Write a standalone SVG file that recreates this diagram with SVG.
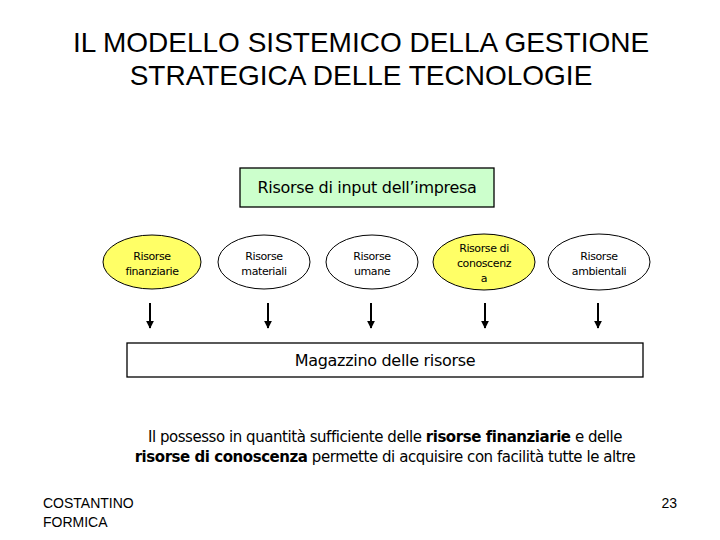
<svg xmlns="http://www.w3.org/2000/svg" width="720" height="540" viewBox="0 0 720 540">
<style>
.title{font-family:"Liberation Sans",Arial,sans-serif;font-size:28px;fill:#000;text-anchor:middle}
.t{font-family:"DejaVu Sans","Liberation Sans",sans-serif;fill:#000;text-anchor:middle}
.small{font-size:11px;letter-spacing:-0.4px}
.box{stroke:#000;stroke-width:1.3}
.ell{stroke:#000;stroke-width:1}
.foot{font-family:"Liberation Sans",Arial,sans-serif;font-size:14px;fill:#000}
.arrow{stroke:#000;stroke-width:2;marker-end:url(#ah)}
</style>
<defs>
<marker id="ah" viewBox="0 0 10 10" refX="9" refY="5" markerWidth="4" markerHeight="4" orient="auto" markerUnits="strokeWidth">
<path d="M0,0 L10,5 L0,10 z" fill="#000"/>
</marker>
</defs>
<rect width="720" height="540" fill="#fff"/>
<g id="title">
<text class="title" x="361" y="52">IL MODELLO SISTEMICO DELLA GESTIONE</text>
<text class="title" x="361" y="85">STRATEGICA DELLE TECNOLOGIE</text>
</g>
<g id="input">
<rect class="box" x="240" y="168" width="254" height="39" fill="#ccffcc"/>
<text class="t" x="367" y="193" font-size="16" letter-spacing="-0.3">Risorse di input dell’impresa</text>
</g>
<g id="finanziarie">
<ellipse class="ell" cx="152" cy="262" rx="49" ry="27" fill="#ffff66"/>
<text class="t small" x="152" y="260">Risorse</text>
<text class="t small" x="152" y="275">finanziarie</text>
</g>
<g id="materiali">
<ellipse class="ell" cx="264" cy="262" rx="46" ry="27" fill="#fff"/>
<text class="t small" x="264" y="260">Risorse</text>
<text class="t small" x="264" y="275">materiali</text>
</g>
<g id="umane">
<ellipse class="ell" cx="372" cy="262" rx="46" ry="27" fill="#fff"/>
<text class="t small" x="372" y="260">Risorse</text>
<text class="t small" x="372" y="275">umane</text>
</g>
<g id="conoscenza">
<ellipse class="ell" cx="484" cy="262" rx="51" ry="28" fill="#ffff66"/>
<text class="t small" x="484" y="252">Risorse di</text>
<text class="t small" x="484" y="267">conoscenz</text>
<text class="t small" x="484" y="282">a</text>
</g>
<g id="ambientali">
<ellipse class="ell" cx="599" cy="262" rx="51" ry="28" fill="#fff"/>
<text class="t small" x="599" y="260">Risorse</text>
<text class="t small" x="599" y="275">ambientali</text>
</g>
<g id="connectors">
<line class="arrow" x1="150" y1="303" x2="150" y2="328"/>
<line class="arrow" x1="268" y1="303" x2="268" y2="328"/>
<line class="arrow" x1="371" y1="303" x2="371" y2="328"/>
<line class="arrow" x1="485" y1="303" x2="485" y2="328"/>
<line class="arrow" x1="598" y1="303" x2="598" y2="328"/>
</g>
<g id="magazzino">
<rect class="box" x="127" y="343" width="516" height="34" fill="#fff"/>
<text class="t" x="385" y="366" font-size="16" letter-spacing="-0.3">Magazzino delle risorse</text>
</g>
<g id="note">
<text class="t" x="385" y="442" font-size="15" letter-spacing="-0.45">Il possesso in quantità sufficiente delle <tspan font-weight="bold">risorse finanziarie</tspan> e delle</text>
<text class="t" x="385" y="462" font-size="15" letter-spacing="-0.45"><tspan font-weight="bold">risorse di conoscenza</tspan> permette di acquisire con facilità tutte le altre</text>
</g>
<g id="footer">
<text class="foot" x="43" y="508">COSTANTINO</text>
<text class="foot" x="43" y="527">FORMICA</text>
<text class="foot" x="677" y="508" text-anchor="end">23</text>
</g>
</svg>
